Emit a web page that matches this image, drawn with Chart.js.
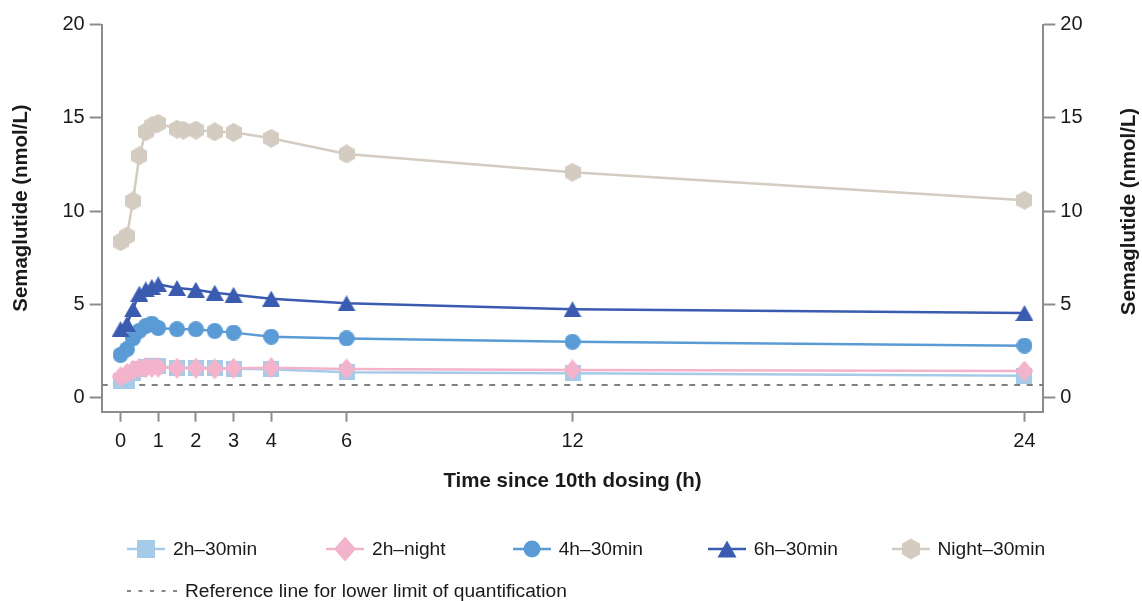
<!DOCTYPE html>
<html><head><meta charset="utf-8">
<script src="https://cdn.jsdelivr.net/npm/chart.js@4"></script>
<style>
html,body{margin:0;padding:0;background:#fff;}
#wrap{position:relative;width:1142px;height:601px;overflow:hidden;background:#fff;}
#c{position:absolute;left:0;top:0;}
.leg{position:absolute;display:flex;align-items:center;height:30px;font:19.2px "Liberation Sans",Arial,sans-serif;color:#1a1a1a;white-space:nowrap;}
.leg svg{margin-right:8px;display:block;}
</style></head><body>
<div id="wrap"><canvas id="c" width="1142" height="601"></canvas><div id="legend"></div></div>
<script>
// ---- data ----
const times = [0, 0.17, 0.33, 0.5, 0.67, 0.83, 1, 1.5, 2, 2.5, 3, 4, 6, 12, 24];
const nightTimes = [0, 0.17, 0.33, 0.5, 0.67, 0.83, 1, 1.5, 1.67, 2, 2.5, 3, 4, 6, 12, 24];
const h2_30min = [0.9, 0.9, 1.3, 1.55, 1.65, 1.7, 1.7, 1.6, 1.6, 1.6, 1.55, 1.52, 1.36, 1.31, 1.18];
const h2_night = [1.13, 1.3, 1.48, 1.58, 1.61, 1.62, 1.63, 1.58, 1.58, 1.54, 1.58, 1.61, 1.54, 1.49, 1.43];
const h4_30min = [2.3, 2.6, 3.18, 3.59, 3.84, 3.97, 3.74, 3.67, 3.67, 3.58, 3.49, 3.27, 3.18, 3.0, 2.79];
const h6_30min = [3.68, 3.95, 4.74, 5.58, 5.81, 5.94, 6.08, 5.88, 5.79, 5.63, 5.52, 5.31, 5.06, 4.74, 4.54];
const night_30min = [8.36, 8.67, 10.55, 12.97, 14.26, 14.58, 14.71, 14.4, 14.35, 14.35, 14.26, 14.23, 13.91, 13.07, 12.09, 10.59];
const lloq = 0.68;
const seriesLabels = ['2h–30min', '2h–night', '4h–30min', '6h–30min', 'Night–30min'];
const xTicks = [0, 1, 2, 3, 4, 6, 12, 24];
const yTicks = [0, 5, 10, 15, 20];
const xTitle = 'Time since 10th dosing (h)';
const yTitle = 'Semaglutide (nmol/L)';
const refLabel = 'Reference line for lower limit of quantification';

// ---- styles ----
const COLORS = ['#a6cbe9', '#f3b3cb', '#5b9bd5', '#3a5bb0', '#d4cbc1'];
const AX = '#8c8c8c';
const TXT = '#1a1a1a';
const FONT = '"Liberation Sans", Arial, sans-serif';

function shapePath(g, shape, w, h) {
  g.beginPath();
  const cx = w / 2, cy = h / 2;
  if (shape === 'square') { g.rect(0, 0, w, h); }
  else if (shape === 'diamond') { g.moveTo(cx, 0); g.lineTo(w, cy); g.lineTo(cx, h); g.lineTo(0, cy); g.closePath(); }
  else if (shape === 'circle') { g.arc(cx, cy, Math.min(w, h) / 2, 0, Math.PI * 2); }
  else if (shape === 'triangle') { g.moveTo(cx, 0); g.lineTo(w, h); g.lineTo(0, h); g.closePath(); }
  else if (shape === 'hexagon') {
    const r = h / 2;
    for (let i = 0; i < 6; i++) {
      const a = -Math.PI / 2 + i * Math.PI / 3;
      const px = cx + r * Math.cos(a), py = cy + r * Math.sin(a);
      if (i === 0) g.moveTo(px, py); else g.lineTo(px, py);
    }
    g.closePath();
  }
}
function marker(shape, color, w, h) {
  const cv = document.createElement('canvas');
  cv.width = w; cv.height = h;
  const g = cv.getContext('2d');
  shapePath(g, shape, w, h);
  g.fillStyle = color; g.fill();
  return cv;
}
const SHAPES = ['square', 'diamond', 'circle', 'triangle', 'hexagon'];
const SIZES = [[16, 16], [18, 21], [16, 16], [18, 16], [16, 19]];
const LEG_SIZES = [[18, 18], [22, 25], [17, 17], [19, 17], [18, 21]];

const pts = (xs, ys) => xs.map((x, i) => ({ x: x, y: ys[i] }));
const seriesData = [pts(times, h2_30min), pts(times, h2_night), pts(times, h4_30min), pts(times, h6_30min), pts(nightTimes, night_30min)];

const datasets = seriesData.map((d, i) => ({
  label: seriesLabels[i],
  data: d,
  borderColor: COLORS[i],
  backgroundColor: COLORS[i],
  borderWidth: 2.5,
  pointStyle: marker(SHAPES[i], COLORS[i], SIZES[i][0], SIZES[i][1]),
  pointRadius: 8,
  tension: 0,
  order: 5 - i
}));
datasets.push({
  label: 'LLOQ',
  data: [{ x: -0.5, y: lloq }, { x: 24.5, y: lloq }],
  borderColor: '#808080',
  borderWidth: 2,
  borderDash: [6, 6.5],
  pointRadius: 0,
  order: 6
});

const yTitles = {
  id: 'yTitles',
  afterDraw(chart) {
    const c = chart.ctx;
    const draw = (x, y) => {
      c.save();
      c.translate(x, y);
      c.rotate(-Math.PI / 2);
      c.font = 'bold 20.4px ' + FONT;
      c.fillStyle = TXT;
      c.textAlign = 'center';
      c.textBaseline = 'middle';
      c.fillText(yTitle, 0, 0);
      c.restore();
    };
    draw(21, 208);
    draw(1129, 211.5);
  }
};

const yAxisCommon = (pos, width) => ({
  type: 'linear', position: pos, min: -0.75, max: 20,
  afterBuildTicks: s => { s.ticks = yTicks.map(v => ({ value: v })); },
  afterFit: s => { s.width = width; },
  grid: { drawOnChartArea: false, drawTicks: true, tickLength: 12, tickColor: AX, tickWidth: 2 },
  border: { display: true, color: AX, width: 2 },
  ticks: { color: TXT, font: { family: FONT, size: 20 }, padding: 5 }
});

new Chart(document.getElementById('c'), {
  type: 'line',
  data: { datasets: datasets },
  options: {
    responsive: false,
    animation: false,
    devicePixelRatio: 1,
    layout: { padding: { top: 24.7, bottom: 104.3, left: 0, right: 0 } },
    plugins: { legend: { display: false }, tooltip: { enabled: false } },
    scales: {
      x: {
        type: 'linear', min: -0.5, max: 24.5,
        afterBuildTicks: s => { s.ticks = xTicks.map(v => ({ value: v })); },
        afterFit: s => { s.height = 85; },
        grid: { drawOnChartArea: false, drawTicks: true, tickLength: 10, tickColor: AX, tickWidth: 2 },
        border: { display: true, color: AX, width: 2 },
        ticks: { color: TXT, font: { family: FONT, size: 20 }, padding: 8, maxRotation: 0, autoSkip: false },
        title: { display: true, text: xTitle, color: TXT, font: { family: FONT, size: 20.5, weight: 'bold' }, padding: { top: 0, bottom: 3.4 } }
      },
      y: yAxisCommon('left', 101.7),
      y2: yAxisCommon('right', 98.7)
    }
  },
  plugins: [yTitles]
});

// ---- legend (HTML) ----
const legend = document.getElementById('legend');
const legX = [127, 326, 512.7, 707.7, 891.5];
function svgFor(i) {
  const [w, h] = LEG_SIZES[i];
  const cx = 19, cy = 15;
  let shape = '';
  const col = COLORS[i];
  if (SHAPES[i] === 'square') shape = `<rect x="${cx - w / 2}" y="${cy - h / 2}" width="${w}" height="${h}" fill="${col}"/>`;
  else if (SHAPES[i] === 'diamond') shape = `<polygon points="${cx},${cy - h / 2} ${cx + w / 2},${cy} ${cx},${cy + h / 2} ${cx - w / 2},${cy}" fill="${col}"/>`;
  else if (SHAPES[i] === 'circle') shape = `<circle cx="${cx}" cy="${cy}" r="${w / 2}" fill="${col}"/>`;
  else if (SHAPES[i] === 'triangle') shape = `<polygon points="${cx},${cy - h / 2} ${cx + w / 2},${cy + h / 2} ${cx - w / 2},${cy + h / 2}" fill="${col}"/>`;
  else {
    const r = h / 2; const p = [];
    for (let k = 0; k < 6; k++) { const a = -Math.PI / 2 + k * Math.PI / 3; p.push((cx + r * Math.cos(a)).toFixed(2) + ',' + (cy + r * Math.sin(a)).toFixed(2)); }
    shape = `<polygon points="${p.join(' ')}" fill="${col}"/>`;
  }
  return `<svg width="38" height="30"><line x1="0" y1="${cy}" x2="38" y2="${cy}" stroke="${col}" stroke-width="2.5"/>${shape}</svg>`;
}
seriesLabels.forEach((lab, i) => {
  const d = document.createElement('div');
  d.className = 'leg';
  d.style.left = legX[i] + 'px';
  d.style.top = (549 - 15) + 'px';
  d.innerHTML = svgFor(i) + '<span>' + lab + '</span>';
  legend.appendChild(d);
});
const ref = document.createElement('div');
ref.className = 'leg';
ref.style.left = '127px';
ref.style.top = (591 - 15) + 'px';
ref.innerHTML = '<svg width="50" height="30"><line x1="0" y1="15" x2="50" y2="15" stroke="#888" stroke-width="2" stroke-dasharray="4,7.5"/></svg><span>' + refLabel + '</span>';
legend.appendChild(ref);
</script>
</body></html>
